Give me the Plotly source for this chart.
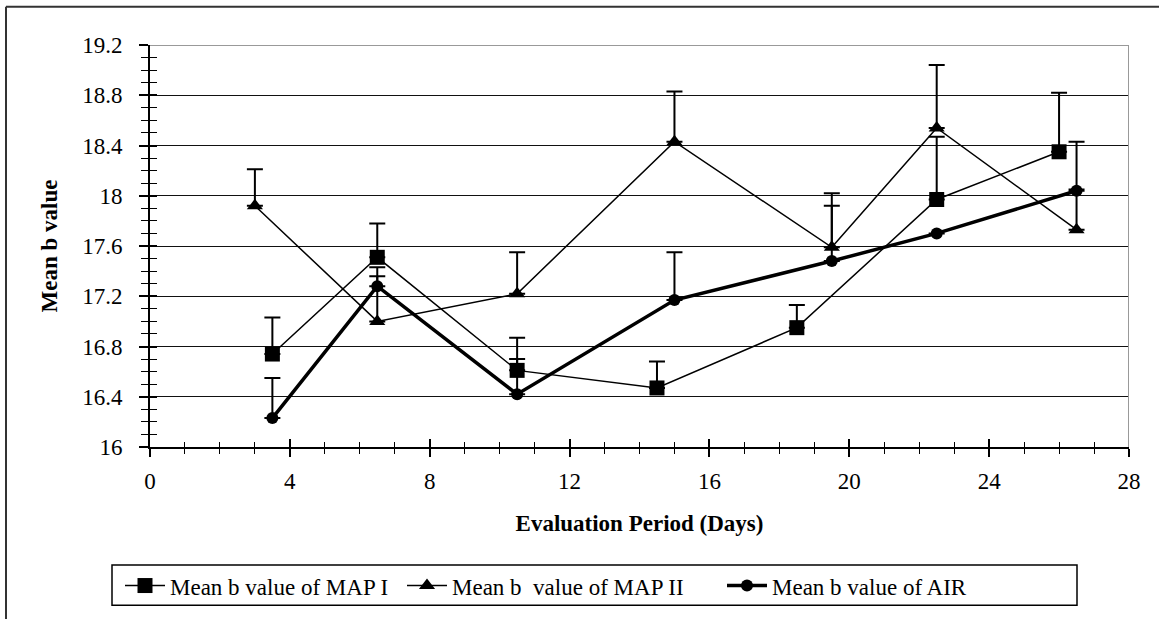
import plotly.graph_objects as go

# ---------------- data ----------------
days_map1 = [3.5, 6.5, 10.5, 14.5, 18.5, 22.5, 26]
mean_map1 = [16.74, 17.51, 16.61, 16.47, 16.95, 17.97, 18.35]
err_map1 = [0.29, 0.27, 0.26, 0.21, 0.18, 0.50, 0.47]

days_map2 = [3, 6.5, 10.5, 15, 19.5, 22.5, 26.5]
mean_map2 = [17.92, 17.00, 17.22, 18.43, 17.59, 18.54, 17.73]
err_map2 = [0.29, 0.43, 0.33, 0.40, 0.43, 0.50, 0.70]

days_air = [3.5, 6.5, 10.5, 15, 19.5, 22.5, 26.5]
mean_air = [16.23, 17.28, 16.42, 17.17, 17.48, 17.70, 18.04]
err_air = [0.32, 0.08, 0.28, 0.38, 0.44, 0.0, 0.01]

names = ["Mean b value of MAP I", "Mean b  value of MAP II", "Mean b value of AIR"]

y_tickvals = [16, 16.4, 16.8, 17.2, 17.6, 18, 18.4, 18.8, 19.2]
y_ticktext = ["16", "16.4", "16.8", "17.2", "17.6", "18", "18.4", "18.8", "19.2"]
x_tickvals = [0, 4, 8, 12, 16, 20, 24, 28]
x_ticktext = ["0", "4", "8", "12", "16", "20", "24", "28"]

# ---------------- layout geometry ----------------
W, H = 1159, 619
ML, MR, MT, MB = 150, 30, 45, 165
PW, PH = W - ML - MR, H - MT - MB

def xp(px):
    return (px - ML) / PW

def yp(py):
    return (H - MB - py) / PH

FONT = "Liberation Serif, Times New Roman, serif"
LEG_FONT = dict(family=FONT, size=23, color="black")

def err(arr):
    return dict(type="data", array=arr, arrayminus=[0] * len(arr), symmetric=False,
                color="black", thickness=2, width=8)

def leg(px):
    return dict(orientation="h", x=xp(px), y=yp(595), xanchor="left", yanchor="middle",
                borderwidth=0, bgcolor="rgba(0,0,0,0)", font=LEG_FONT, itemwidth=40)

fig = go.Figure()
fig.add_trace(go.Scatter(
    x=days_map1, y=mean_map1, name=names[0], mode="lines+markers", legend="legend",
    line=dict(color="black", width=1.5),
    marker=dict(symbol="square", size=15, color="black"),
    error_y=err(err_map1)))
fig.add_trace(go.Scatter(
    x=days_map2, y=mean_map2, name=names[1], mode="lines+markers", legend="legend2",
    line=dict(color="black", width=1.5),
    marker=dict(symbol="triangle-up", size=14, color="black"),
    error_y=err(err_map2)))
fig.add_trace(go.Scatter(
    x=days_air, y=mean_air, name=names[2], mode="lines+markers", legend="legend3",
    line=dict(color="black", width=3.5),
    marker=dict(symbol="circle", size=12, color="black"),
    error_y=err(err_air)))
# empty helper trace so the overlay axes (inner tick halves) are drawn
fig.add_trace(go.Scatter(x=[None], y=[None], xaxis="x2", yaxis="y2",
                         showlegend=False, hoverinfo="skip"))

fig.update_layout(
    width=W, height=H,
    margin=dict(l=ML, r=MR, t=MT, b=MB),
    paper_bgcolor="white", plot_bgcolor="white",
    font=dict(family=FONT, size=23, color="black"),
    showlegend=True,
    legend=leg(120), legend2=leg(402), legend3=leg(722),
    xaxis=dict(range=[0, 28], tickvals=x_tickvals, ticktext=x_ticktext,
               showgrid=False, zeroline=False, showline=True, linecolor="black", linewidth=2,
               ticks="outside", ticklen=8, tickwidth=1.5, tickcolor="black",
               minor=dict(dtick=1, tick0=0, ticks="outside", ticklen=5, tickwidth=1, tickcolor="black"),
               ticklabelstandoff=4,
               tickfont=dict(family=FONT, size=23),
               title=dict(text="<b>Evaluation Period (Days)</b>", standoff=22,
                          font=dict(family=FONT, size=23))),
    yaxis=dict(range=[16, 19.2], tickvals=y_tickvals, ticktext=y_ticktext,
               showgrid=True, gridcolor="#111111", gridwidth=1,
               zeroline=False, showline=True, linecolor="black", linewidth=2,
               ticks="outside", ticklen=9, tickwidth=1.5, tickcolor="black",
               minor=dict(dtick=0.1, tick0=16, ticks="outside", ticklen=7, tickwidth=1,
                          tickcolor="black", showgrid=False),
               ticklabelstandoff=12,
               tickfont=dict(family=FONT, size=23),
               title=dict(text="<b>Mean b value</b>", standoff=18,
                          font=dict(family=FONT, size=23))),
    xaxis2=dict(range=[0, 28], overlaying="x", anchor="y", side="bottom",
                tickvals=x_tickvals, showticklabels=False, showgrid=False, zeroline=False,
                showline=False, ticks="inside", ticklen=8, tickwidth=1.5, tickcolor="black",
                minor=dict(dtick=1, tick0=0, ticks="inside", ticklen=5, tickwidth=1, tickcolor="black")),
    yaxis2=dict(range=[16, 19.2], overlaying="y", anchor="x", side="left",
                tickvals=y_tickvals, showticklabels=False, showgrid=False, zeroline=False,
                showline=False, ticks="inside", ticklen=7, tickwidth=1.5, tickcolor="black",
                minor=dict(dtick=0.1, tick0=16, ticks="inside", ticklen=7, tickwidth=1,
                           tickcolor="black", showgrid=False)),
    shapes=[
        # outer chart frame (top and left edges visible)
        dict(type="line", xref="paper", yref="paper", x0=xp(6), x1=xp(W + 10), y0=yp(6), y1=yp(6),
             line=dict(color="#333333", width=2)),
        dict(type="line", xref="paper", yref="paper", x0=xp(6), x1=xp(6), y0=yp(6), y1=yp(H + 10),
             line=dict(color="#333333", width=2)),
        # plot area frame (top and right, gray)
        dict(type="line", xref="x", yref="y", x0=0, x1=28, y0=19.2, y1=19.2,
             line=dict(color="#999999", width=2), layer="above"),
        dict(type="line", xref="x", yref="y", x0=28, x1=28, y0=16, y1=19.2,
             line=dict(color="#999999", width=2), layer="above"),
        # legend frame
        dict(type="rect", xref="paper", yref="paper", x0=xp(112), x1=xp(1077),
             y0=yp(615), y1=yp(574), line=dict(color="black", width=1.5)),
    ],
)

fig.write_html("out.html")
